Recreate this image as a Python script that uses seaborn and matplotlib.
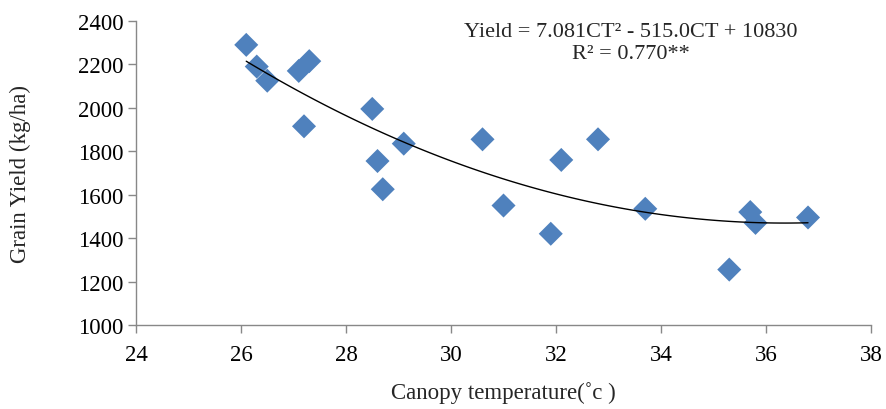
import numpy as np
import pandas as pd
import matplotlib
matplotlib.use("Agg")
import matplotlib.pyplot as plt
import seaborn as sns

# canopy temperature (C) and grain yield (kg/ha)
canopy_temp = [26.1, 26.3, 26.5, 27.1, 27.3, 27.2, 28.5, 28.6, 28.7, 29.1,
               30.6, 31.0, 31.9, 32.1, 32.8, 33.7, 35.3, 35.7, 35.8, 36.8]
grain_yield = [2290, 2190, 2125, 2170, 2215, 1915, 1995, 1755, 1625, 1835,
               1855, 1550, 1420, 1760, 1855, 1535, 1255, 1520, 1470, 1495]

x_ticks = [24, 26, 28, 30, 32, 34, 36, 38]
y_ticks = [1000, 1200, 1400, 1600, 1800, 2000, 2200, 2400]

df = pd.DataFrame({"ct": canopy_temp, "yield": grain_yield})

sns.set_style("white")
plt.rcParams["font.family"] = ["Liberation Serif", "DejaVu Serif"]

fig = plt.figure(figsize=(8.86, 4.10), dpi=100)
ax = fig.add_axes([0.1535, 0.205, 0.8296, 0.7414])

sns.scatterplot(data=df, x="ct", y="yield", marker="D", s=150,
                color="#4F81BD", edgecolor="none", ax=ax, zorder=2)
sns.regplot(data=df, x="ct", y="yield", order=2, ci=None, scatter=False,
            truncate=True, line_kws={"color": "black", "lw": 1.0},
            ax=ax)

ax.set_xlim(24, 38)
ax.set_ylim(1000, 2400)
ax.set_xticks(x_ticks)
ax.set_yticks(y_ticks)
ax.tick_params(axis="both", labelsize=16.5, colors="#888888",
               labelcolor="black", length=6, width=1, direction="out",
               bottom=True, left=True)
ax.tick_params(axis="y", pad=3)
ax.tick_params(axis="x", pad=8)

for side in ["top", "right"]:
    ax.spines[side].set_visible(False)
for side in ["left", "bottom"]:
    ax.spines[side].set_color("#888888")
    ax.spines[side].set_linewidth(1)

ax.set_xlabel("Canopy temperature(\u02DAc )", fontsize=16.5, labelpad=11)
ax.set_ylabel("Grain Yield (kg/ha)", fontsize=16.5, labelpad=34)

ax.text(0.673, 0.995, "Yield = 7.081CT\u00B2 - 515.0CT + 10830\nR\u00B2 = 0.770**",
        transform=ax.transAxes, ha="center", va="top", fontsize=16,
        linespacing=1.15)

fig.savefig("out.png", dpi=100)
